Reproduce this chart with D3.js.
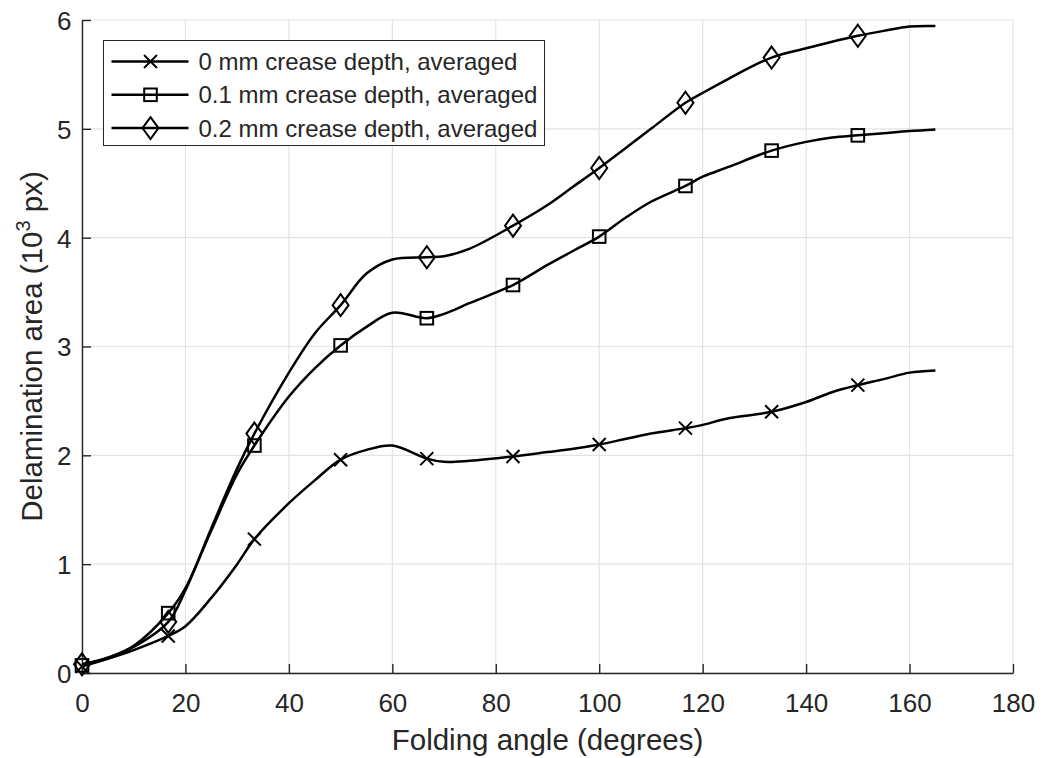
<!DOCTYPE html>
<html>
<head>
<meta charset="utf-8">
<script src="https://cdn.jsdelivr.net/npm/d3@7"></script>
<style>
  body { margin: 0; background: #fff; }
  svg text { font-family: Arial, "Liberation Sans", Helvetica, sans-serif; fill: #262626; }
</style>
</head>
<body>
<div id="chart"></div>
<script>
// Data
const angles = [0, 5, 10, 16.67, 20, 25, 30, 33.33, 40, 45, 50, 55, 60, 66.67, 70, 75,
  83.33, 90, 95, 100, 105, 110, 116.67, 120, 125, 133.33, 140, 145, 150, 155, 160, 165];

const depth_0 = [0.06, 0.13, 0.21, 0.34, 0.43, 0.69, 1.00, 1.23, 1.56, 1.77, 1.96, 2.05, 2.09, 1.97, 1.94, 1.95,
  1.99, 2.03, 2.06, 2.10, 2.15, 2.20, 2.25, 2.28, 2.34, 2.40, 2.49, 2.58, 2.645, 2.70, 2.76, 2.78];

const depth_01 = [0.07, 0.14, 0.25, 0.55, 0.78, 1.31, 1.83, 2.09, 2.54, 2.80, 3.01, 3.18, 3.31, 3.26, 3.30, 3.40,
  3.565, 3.75, 3.88, 4.01, 4.18, 4.33, 4.475, 4.56, 4.65, 4.80, 4.88, 4.92, 4.94, 4.96, 4.98, 4.995];

const depth_02 = [0.08, 0.14, 0.24, 0.47, 0.76, 1.33, 1.88, 2.20, 2.76, 3.12, 3.38, 3.67, 3.80, 3.82, 3.83, 3.90,
  4.11, 4.30, 4.47, 4.64, 4.82, 5.00, 5.24, 5.33, 5.46, 5.655, 5.74, 5.80, 5.855, 5.90, 5.94, 5.945];

// Markers sit only on these angles
const marker_angles = [0, 16.67, 33.33, 50, 66.67, 83.33, 100, 116.67, 133.33, 150];

const series_names = [
  '0 mm crease depth, averaged',
  '0.1 mm crease depth, averaged',
  '0.2 mm crease depth, averaged',
];
const series_markers = ['cross', 'square', 'diamond'];

const x_ticks = [0, 20, 40, 60, 80, 100, 120, 140, 160, 180];
const y_ticks = [0, 1, 2, 3, 4, 5, 6];

const C = {
  width: 1043,
  height: 758,
  margin: {left: 82, right: 30, top: 20, bottom: 85},
  axis_color: '#262626',
  grid_color: '#e3e3e3',
  tick_len: 9,
  tick_font: 26,
  label_font: 29.5,
  legend_font: 24,
  line_width: 2.5,
};

const svg = d3.select('#chart').append('svg')
  .attr('width', C.width)
  .attr('height', C.height);

const X = d3.scaleLinear().domain([0, 180])
  .range([C.margin.left, C.width - C.margin.right]);
const Y = d3.scaleLinear().domain([0, 6])
  .range([C.height - C.margin.bottom, C.margin.top]);

// Grid lines
svg.append('g').selectAll('line').data(x_ticks).join('line')
  .attr('x1', d => X(d)).attr('x2', d => X(d))
  .attr('y1', Y(0)).attr('y2', Y(6))
  .attr('stroke', C.grid_color).attr('stroke-width', 1.2);
svg.append('g').selectAll('line').data(y_ticks).join('line')
  .attr('y1', d => Y(d)).attr('y2', d => Y(d))
  .attr('x1', X(0)).attr('x2', X(180))
  .attr('stroke', C.grid_color).attr('stroke-width', 1.2);

// Axes (ticks point inward, MATLAB style)
const x_axis = svg.append('g')
  .attr('transform', `translate(0,${Y(0)})`)
  .call(d3.axisBottom(X).tickValues(x_ticks).tickFormat(d3.format('d'))
    .tickSize(-C.tick_len).tickPadding(0).tickSizeOuter(0));
const y_axis = svg.append('g')
  .attr('transform', `translate(${X(0)},0)`)
  .call(d3.axisLeft(Y).tickValues(y_ticks).tickFormat(d3.format('d'))
    .tickSize(-C.tick_len).tickSizeOuter(0));

[x_axis, y_axis].forEach(g => {
  g.select('.domain').attr('stroke', C.axis_color).attr('stroke-width', 1.4);
  g.selectAll('.tick line').attr('stroke', C.axis_color).attr('stroke-width', 1.4);
  g.selectAll('.tick text')
    .attr('fill', C.axis_color)
    .style('font-size', C.tick_font + 'px')
    .style('font-family', 'Arial, "Liberation Sans", sans-serif');
});

x_axis.selectAll('.tick text').attr('y', 0).attr('dy', 0)
  .attr('transform', 'translate(0,39)');
y_axis.selectAll('.tick text').attr('x', -10.5).attr('dy', '0.36em');

// Axis labels
svg.append('text')
  .attr('x', (X(0) + X(180)) / 2)
  .attr('y', 750)
  .attr('text-anchor', 'middle')
  .style('font-size', C.label_font + 'px')
  .text('Folding angle (degrees)');

const y_label = svg.append('text')
  .attr('transform', `translate(42,${(Y(0) + Y(6)) / 2}) rotate(-90)`)
  .attr('text-anchor', 'middle')
  .style('font-size', C.label_font + 'px');
y_label.append('tspan').text('Delamination area (10');
y_label.append('tspan').attr('dy', -12).style('font-size', '20px').text('3');
y_label.append('tspan').attr('dy', 12).text(' px)');

// Marker drawing helper
function draw_marker(g, type, cx, cy){
  const s = g.append('g').attr('transform', `translate(${cx},${cy})`)
    .attr('fill', 'none').attr('stroke', '#000').attr('stroke-width', 2);
  if(type === 'cross'){
    s.append('path').attr('d', 'M-6.5,-6.5L6.5,6.5M-6.5,6.5L6.5,-6.5');
  } else if(type === 'square'){
    s.append('rect').attr('x', -6.3).attr('y', -6.3).attr('width', 12.6).attr('height', 12.6);
  } else {
    s.append('path').attr('d', 'M0,-11L8,0L0,11L-8,0Z');
  }
}

// Curves
const line = d3.line()
  .x(d => X(d[0]))
  .y(d => Y(d[1]))
  .curve(d3.curveCatmullRom.alpha(0.5));

const all_series = [depth_0, depth_01, depth_02];
const plot = svg.append('g');

all_series.forEach((vals, i) => {
  const pts = angles.map((a, j) => [a, vals[j]]);
  plot.append('path')
    .attr('d', line(pts))
    .attr('fill', 'none')
    .attr('stroke', '#000')
    .attr('stroke-width', C.line_width)
    .attr('stroke-linejoin', 'round');

  pts.filter(p => marker_angles.includes(p[0]))
    .forEach(p => draw_marker(plot, series_markers[i], X(p[0]), Y(p[1])));
});

// Legend
const legend = svg.append('g').attr('transform', 'translate(103.5,40.5)');
legend.append('rect')
  .attr('width', 441).attr('height', 105)
  .attr('fill', '#fff')
  .attr('stroke', C.axis_color).attr('stroke-width', 1);

series_names.forEach((name, i) => {
  const cy = 21 + i * 33.3;
  legend.append('line')
    .attr('x1', 8).attr('x2', 85)
    .attr('y1', cy).attr('y2', cy)
    .attr('stroke', '#000').attr('stroke-width', C.line_width);
  draw_marker(legend, series_markers[i], 47, cy);
  legend.append('text')
    .attr('x', 95).attr('y', cy)
    .attr('dy', '0.36em')
    .style('font-size', C.legend_font + 'px')
    .text(name);
});
</script>
</body>
</html>
